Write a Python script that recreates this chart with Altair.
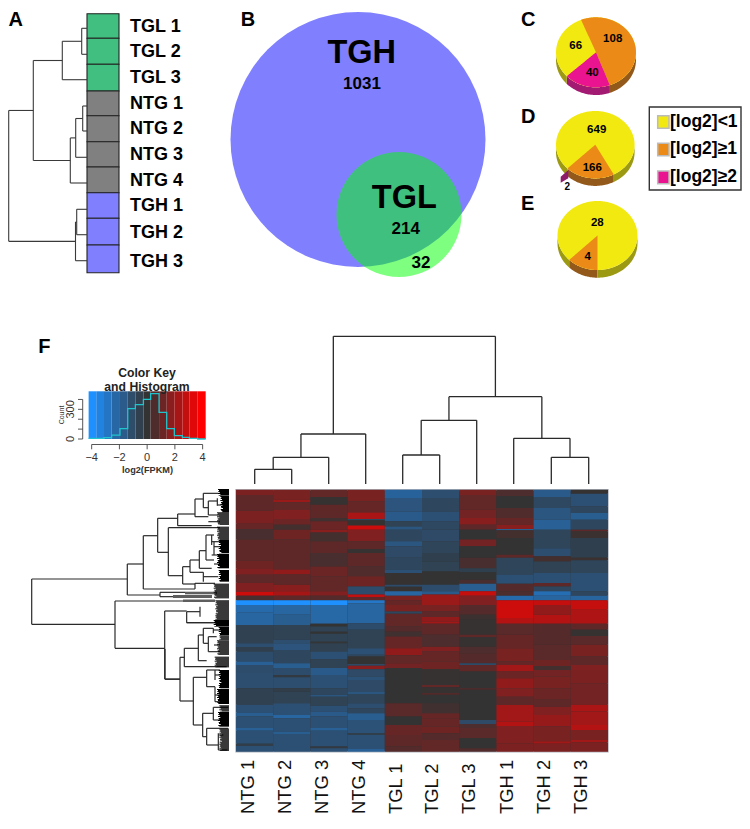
import numpy as np
import pandas as pd
import altair as alt

FONT = "Liberation Sans"
X_SCALE = alt.Scale(domain=[8, 742], nice=False, zero=False)
Y_SCALE = alt.Scale(domain=[8, 815], reverse=True, nice=False, zero=False)
qx = alt.X("x:Q", scale=X_SCALE, axis=None)
qy = alt.Y("y:Q", scale=Y_SCALE, axis=None)

GREEN, GRAY, BLUE = "#40BF80", "#808080", "#8080FF"
YELLOW, ORANGE, MAGENTA = "#F2E911", "#EB8A17", "#EA1490"
WALL = {YELLOW: "#9C9A12", ORANGE: "#93591A", MAGENTA: "#A31A72"}

# ---------- Panel A
a_names = ["TGL 1", "TGL 2", "TGL 3", "NTG 1", "NTG 2", "NTG 3", "NTG 4", "TGH 1", "TGH 2", "TGH 3"]
a_colors = [GREEN] * 3 + [GRAY] * 4 + [BLUE] * 3
a_edges = [13.7, 38.3, 64.3, 91, 115.7, 141.7, 167, 192.7, 218.3, 245, 272.7]
a_label_y = [26.7, 51.7, 77.7, 104, 129, 155, 181, 206, 233, 262]
a_leaf_y = [28.3, 54.3, 79.7, 106, 131, 157.3, 183, 209.3, 234.7, 260.7]
a_merges = [(0, 1, 81.7), (10, 2, 62.3), (3, 4, 82.7), (12, 5, 75.7), (13, 6, 70.3),
            (11, 14, 33.3), (7, 8, 76.7), (16, 9, 75.5), (15, 17, 8.7)]

# ---------- Panel F top tree
col_names = ["NTG 1", "NTG 2", "NTG 3", "NTG 4", "TGL 1", "TGL 2", "TGL 3", "TGH 1", "TGH 2", "TGH 3"]
top_leaf_x = [254.7, 291.7, 328.7, 365.7, 402.7, 439.7, 476.7, 513.7, 551.3, 588.7]
top_merges = [(0, 1, 469.3), (10, 2, 457.3), (11, 3, 434), (4, 5, 455), (13, 6, 420.3),
              (8, 9, 457.3), (7, 15, 438.3), (14, 16, 396.7), (12, 17, 336.3)]
col_label_x = [247.7, 285, 321.7, 359, 395.7, 432.3, 469.3, 506.7, 544, 580.7]


def tree_segments(leaves, merges, leaf_h, horizontal):
    pos = list(leaves)
    h = [leaf_h] * len(leaves)
    segs = []
    for l, r, m in merges:
        pl, pr = pos[l], pos[r]
        if horizontal:
            segs += [(m, pl, m, pr), (m, pl, h[l], pl), (m, pr, h[r], pr)]
        else:
            segs += [(pl, m, pr, m), (pl, m, pl, h[l]), (pr, m, pr, h[r])]
        pos.append((pl + pr) / 2)
        h.append(m)
    return segs


# ---------- Heatmap, each column: (end row of the band, log2 value)
heat_cols = [
    [(2,1.7),(8,1.0),(13,1.7),(15,1.2),(19,0.5),(27,1.0),(30,1.4),(32.5,1.8),(35.5,1.0),(39,1.8),(40.5,3.6),(42.2,0.5),(44,-4),(47,-2.8),(51.6,-2.6),(58.6,-0.7),(60,-1.4),(61.8,-0.6),(65.6,-1.3),(66.9,-2.3),(70,-1.3),(75.8,-1.4),(82.1,-0.7),(85,-1.5),(86.6,-2.2),(91,-1.5),(92,-2.3),(97,-1.5),(97.8,-0.5),(100,-1.5)],
    [(3.8,1.6),(4.8,2.4),(7.6,1.1),(11.5,1.8),(13.4,1.3),(15.3,0.4),(19,1.4),(30.5,1.0),(32.4,2.2),(36.3,1.0),(38.8,2.0),(40.5,2.7),(42.2,1.0),(44,-4),(47.7,-2.6),(51.6,-2.2),(57.3,-0.8),(58.6,-1.4),(61.2,-1.7),(66.2,-1.0),(68.1,-2.2),(70.7,-1.3),(71.6,-0.3),(75.8,-1.4),(77,-0.5),(81.5,-0.8),(86,-1.5),(87.2,-2.6),(92.3,-1.5),(93.2,-2.2),(100,-1.5)],
    [(2.8,1.1),(5.7,0.1),(10.8,1.0),(12,0.3),(15.3,1.3),(16.3,2),(19.7,0.4),(24.2,1.0),(29.3,0.5),(33,1.3),(38.8,1.1),(40.5,1.8),(42.2,0.8),(44,-4),(51.2,-2.7),(52.2,0),(54.2,-0.8),(55,0),(58,-0.8),(58.6,-0.1),(61.8,-0.7),(64.7,-1.5),(68.1,-0.8),(70.7,-2),(75.8,-1.5),(78.3,-1),(79,-1.8),(82.5,-0.8),(84.7,-1.5),(86.6,-2),(91,-1.5),(92,-2.3),(98,-1.5),(98.7,-0.3),(100,-1.5)],
    [(4.5,1.6),(8.7,1.2),(11.2,2.8),(11.7,-1),(13.7,0.1),(15.3,3.6),(19.7,1.8),(22.6,1.0),(24.2,0.1),(29.3,1.0),(33,0.7),(36.9,1.4),(40,-1.3),(41,3.3),(42.2,1),(43.3,-3.5),(51,-2.6),(53.5,-1.3),(60.5,-0.8),(63,-1.5),(63.7,-1),(66.5,0),(67.2,-1.2),(68.5,2),(71.3,-1.2),(72.6,-1.6),(77,-1.2),(78,-1.8),(81.5,-0.9),(83.4,-1.4),(85.3,-1.0),(87.9,-2.2),(93,-1.6),(93.6,-0.6),(99,-1.5),(100,-2.3)],
    [(3.2,-2.4),(8.3,-1.7),(12,-2),(14,-0.8),(15.3,-1.8),(19.7,-1.0),(21.6,-1.8),(26,-1.2),(30.5,-1.0),(31.8,-1.5),(36.3,0.1),(37,-1.3),(38.8,0.1),(40.5,-2.6),(42.2,1.6),(44,1.2),(46.5,1.6),(47.3,-1),(52.2,1.1),(54.2,0.8),(56,0.3),(60.5,1.2),(63.2,2.2),(66.2,1.1),(68.1,1.5),(81.5,0),(86.6,0.9),(89.8,0),(93.6,1.2),(98,1.0),(100,0.8)],
    [(3.2,-1.4),(8.3,-1.0),(12,-1.5),(15.3,-1.1),(19.7,-1.2),(24.2,-0.9),(27.4,-0.6),(31.2,-0.8),(36.3,0),(38.8,-1.3),(40,-2),(44,2.4),(46.5,1.6),(48.6,1.0),(50.3,2.2),(51.2,2.6),(55.4,1),(59.9,0.6),(61.8,1.8),(65.6,1.2),(68.5,1.4),(74.5,0.1),(75.4,1.1),(77.7,0.1),(78.3,1),(81.5,0),(85.3,0.3),(87.2,1.2),(90.4,1.2),(93,1.4),(95.5,0.8),(100,1.1)],
    [(2,1.6),(7.6,1.1),(10.8,1.5),(13.4,2),(15.3,1),(19,0),(21.6,1.5),(26,0),(30,0.5),(31.5,-0.6),(34.4,0),(35.9,0.5),(38.8,-2.2),(40.5,3.4),(44,1.8),(47.7,0.8),(49.6,0.2),(55.4,0.1),(56.3,1),(59.9,0.1),(62.4,0.6),(66.2,0.8),(66.9,-1.2),(69.4,1.0),(75.8,0),(76.4,0.8),(87.9,0),(89.4,-1.2),(91,0.6),(94.9,0.9),(98.7,0),(100,0.7)],
    [(2.5,0.6),(7,0),(10.8,0.7),(13.4,1.2),(15,2),(15.5,-2.2),(18.4,0.4),(24.8,0),(26,1),(32.4,-0.9),(35.9,-1.5),(38.8,0.8),(40.5,0.6),(42.2,-2.8),(49,3.6),(51.2,3),(55.4,0.9),(60.5,1.2),(65.6,1.6),(66.9,1.2),(69.4,2.6),(72,1.3),(75.8,2.2),(79,1.8),(82.2,1),(88.5,2.6),(90.2,3),(96.8,1.8),(100,1.7)],
    [(2.8,-2),(7,-1.1),(11.5,-1.8),(15.3,-2.3),(22.3,-0.9),(25.4,-1.4),(27.4,0.4),(31.8,-0.8),(35.6,-1.5),(36.9,1.0),(38.8,-1),(40.5,-3),(42.2,-2.5),(44,3.4),(47.7,2.2),(51.2,3),(59.2,0.8),(65,0.9),(67.3,1.4),(68.8,0.4),(71.3,1.5),(75.8,1.6),(80.2,1.3),(82.8,1),(86,1.8),(90.4,2.3),(96,1.6),(97,2.6),(100,1.7)],
    [(1.5,0.1),(6.4,-1.5),(8.9,-1),(11.5,-2.2),(15.3,-1),(15.9,1),(18.4,0.2),(26,-0.6),(26.9,0.2),(31.8,-0.9),(38.8,-1.5),(40.5,-1),(42.2,-2.5),(45.8,3.4),(51.2,2.9),(53.5,1),(55.8,0.1),(59.2,0.9),(63.7,1.6),(66.9,1.0),(68.8,1.8),(73.9,1.7),(82.1,1.5),(84.7,2.8),(89.8,2.6),(91.7,3),(95.5,1.6),(96.5,2.6),(100,1.7)],
]
HEAT_L, HEAT_R, HEAT_T, HEAT_B = 236.0, 608.0, 489.7, 751.7
HEAT_SHADE = 0.84

# ---------- Colour key
hist_edges = [-4.22, -3.11, -2.56, -1.96, -1.40, -0.85, -0.27, 0.25, 0.86, 1.41, 1.96, 2.54, 3.04, 3.64, 4.22]
hist_counts = [7, 13, 40, 104, 307, 347, 401, 458, 270, 104, 34, 17, 7, 0]
key_edges = [-4.22, -3.67, -3.11, -2.56, -1.96, -1.40, -0.85, -0.27, 0.25, 0.86, 1.41, 1.96, 2.54, 3.04, 3.64, 4.22]
key_vals = [-4, -3.4, -2.85, -2.25, -1.7, -1.1, -0.55, 0, 0.55, 1.1, 1.7, 2.25, 2.85, 3.4, 4]
key_ticks_x = [-4, -2, 0, 2, 4]
key_ticks_y = [0, 100, 200, 300, 400]
key_x = lambda v: 91.67 + 13.87 * (v + 4)
key_y = lambda c: 439 - c * 0.0989

# ---------- Pies
pies = [
    dict(cx=596, cy=52.3, a=40, b=35, d=7.7, start=-22, values=[108, 40, 66], colors=[ORANGE, MAGENTA, YELLOW]),
    dict(cx=595.3, cy=144.7, a=39.3, b=33.7, d=7.5, start=152, values=[166, 2, 649], colors=[ORANGE, MAGENTA, YELLOW]),
    dict(cx=597.5, cy=235.5, a=40, b=34.5, d=7.7, start=180, values=[4, 28], colors=[ORANGE, YELLOW]),
]

layers = []


def rects(rows, **mark):
    df = pd.DataFrame(rows, columns=["x", "y", "x2", "y2"])
    return alt.Chart(df).mark_rect(**mark).encode(x=qx, y=qy, x2="x2:Q", y2="y2:Q")


def rules(rows, color, width):
    df = pd.DataFrame(rows, columns=["x", "y", "x2", "y2"])
    return alt.Chart(df).mark_rule(color=color, strokeWidth=width).encode(x=qx, y=qy, x2="x2:Q", y2="y2:Q")


def text(rows, size, bold=True, color="#000000", angle=0, align="center", baseline="middle"):
    df = pd.DataFrame(rows, columns=["x", "y", "t"])
    return alt.Chart(df).mark_text(font=FONT, fontSize=size, fontWeight="bold" if bold else "normal",
                                   color=color, angle=angle, align=align, baseline=baseline).encode(x=qx, y=qy, text="t:N")


def area(x, y, y2, color):
    df = pd.DataFrame({"x": x, "y": y, "y2": y2}).sort_values("x")
    return alt.Chart(df).mark_area(color=color, opacity=1).encode(
        x=alt.X("x:Q", scale=X_SCALE, axis=None), y=qy, y2="y2:Q")


def polygon_area(pts, color):
    pts = np.array(pts)
    xs = np.unique(np.concatenate([np.linspace(pts[:, 0].min(), pts[:, 0].max(), 70), pts[:, 0]]))
    top, bot, keep = [], [], []
    closed = np.vstack([pts, pts[0]])
    for xv in xs:
        hits = []
        for (x0, y0), (x1, y1) in zip(closed[:-1], closed[1:]):
            if min(x0, x1) <= xv <= max(x0, x1):
                if x0 == x1:
                    hits += [y0, y1]
                else:
                    hits.append(y0 + (y1 - y0) * (xv - x0) / (x1 - x0))
        if hits:
            top.append(min(hits)); bot.append(max(hits)); keep.append(xv)
    return area(keep, top, bot, color)


# ---- Panel A drawing
a_rows = [(87, a_edges[i], 119, a_edges[i + 1]) for i in range(10)]
for i, c in enumerate(a_colors):
    layers.append(rects([a_rows[i]], color=c, stroke="#222222", strokeWidth=1.1))
layers.append(text([(130, y, n) for y, n in zip(a_label_y, a_names)], 18, align="left"))
layers.append(rules(tree_segments(a_leaf_y, a_merges, 87, True), "#3A3A3A", 1.1))

# ---- Panel B (Venn)
layers.append(alt.Chart(pd.DataFrame({"x": [358], "y": [139.5]})).mark_point(
    shape="circle", filled=True, color=BLUE, opacity=1, size=(2 * 127.5) ** 2).encode(x=qx, y=qy))
layers.append(alt.Chart(pd.DataFrame({"x": [399], "y": [214.5]})).mark_point(
    shape="circle", filled=True, color="#00FF00", opacity=0.5, size=(2 * 62.5) ** 2).encode(x=qx, y=qy))
layers.append(text([(361.7, 53.3, "TGH"), (404.3, 198.3, "TGL")], 32.5))
layers.append(text([(362, 84, "1031"), (405.7, 229.3, "214"), (421, 263.3, "32")], 17))

# ---- Pies
for p in pies:
    cx, cy, a, b, d = p["cx"], p["cy"], p["a"], p["b"], p["d"]
    total = sum(p["values"])
    ang = p["start"]
    wedges = []
    for v, c in zip(p["values"], p["colors"]):
        sw = v / total * 360
        wedges.append((ang, ang + sw, c))
        ang += sw
    # front wall of the pie
    for t0, t1, c in wedges:
        for shift in (0, 360, -360):
            lo, hi = max(t0 + shift, 90), min(t1 + shift, 270)
            if hi - lo > 2:
                ts = np.radians(np.linspace(lo, hi, 40))
                xs = cx + a * np.sin(ts)
                ys = cy - b * np.cos(ts)
                layers.append(area(xs, ys, ys + d, WALL[c]))
    ts = np.radians(np.linspace(0, 360, 120))
    layers.append(polygon_area(np.c_[cx + a * np.sin(ts), cy - b * np.cos(ts)], YELLOW))
    for t0, t1, c in wedges:
        if c == YELLOW or t1 - t0 < 2:
            continue
        ts = np.radians(np.linspace(t0, t1, 50))
        layers.append(polygon_area(np.vstack([[cx, cy], np.c_[cx + a * np.sin(ts), cy - b * np.cos(ts)]]), c))

# exploded sliver of pie D
layers.append(area([560.7, 568.3], [176.7, 170], [182.7, 178.3], "#8E1A6A"))
layers.append(text([(575.7, 45.7, "66"), (612.7, 38.7, "108"), (592.3, 72.7, "40"),
                    (596.7, 130.3, "649"), (592.3, 167.7, "166"),
                    (597.3, 222.7, "28"), (587.7, 256.7, "4")], 11.5))
layers.append(text([(567.3, 186.7, "2")], 10))

# ---- Legend
layers.append(rects([(649.3, 107, 741, 190)], color="#FFFFFF", stroke="#333333", strokeWidth=1.4))
leg = [("[log2]<1", YELLOW, 115.7, 128.3, 121.7), ("[log2]≥1", ORANGE, 143.3, 155.7, 149), ("[log2]≥2", MAGENTA, 171, 183.7, 176.7)]
for t, c, y0, y1, yt in leg:
    layers.append(rects([(657.7, y0, 669, y1)], color=c, stroke="#BBBBBB", strokeWidth=1.5))
    layers.append(text([(670, yt, t)], 17.5, align="left"))

# ---- Panel letters
layers.append(text([(8.5, 20.2, "A"), (240.7, 20.2, "B"), (521, 20.2, "C"), (521, 117, "D"), (521, 204, "E"), (38.3, 346.7, "F")], 20, align="left"))

# ---- Colour key
color_scale = alt.Scale(domain=[-4, 0, 4], range=["#1E90FF", "#333333", "#FF0000"], clamp=True, interpolate="rgb")
key_df = pd.DataFrame({"x": [key_x(v) for v in key_edges[:-1]], "x2": [key_x(v) for v in key_edges[1:]],
                       "y": 391.3, "y2": 439.0, "v": key_vals})
layers.append(alt.Chart(key_df).mark_rect(strokeWidth=0).encode(
    x=qx, y=qy, x2="x2:Q", y2="y2:Q", color=alt.Color("v:Q", scale=color_scale, legend=None)))
hist_df = pd.DataFrame({"x": [key_x(v) for v in hist_edges], "y": [key_y(c) for c in hist_counts + [0]]})
layers.append(alt.Chart(hist_df).mark_line(color="#1FC4CC", strokeWidth=1.3, interpolate="step-after").encode(
    x=alt.X("x:Q", scale=X_SCALE, axis=None), y=qy))
kx = [(key_x(-4), 444.5, key_x(4), 444.5)] + [(key_x(v), 444.5, key_x(v), 449.3) for v in key_ticks_x]
ky = [(82.7, key_y(0), 82.7, key_y(400))] + [(78, key_y(c), 82.7, key_y(c)) for c in key_ticks_y]
layers.append(rules(kx + ky, "#444444", 0.9))
layers.append(text([(key_x(v), 458, str(v).replace("-", "−")) for v in key_ticks_x], 11, bold=False, color="#333333"))
layers.append(text([(147.5, 469.5, "log2(FPKM)")], 9.2, color="#333333"))
layers.append(text([(147, 372.7, "Color Key"), (147, 387.3, "and Histogram")], 12.2, color="#222222"))
layers.append(text([(70.7, key_y(0), "0"), (70.7, key_y(300), "300")], 11, bold=False, color="#333333", angle=270))
layers.append(text([(62.3, 415, "Count")], 7, bold=False, color="#333333", angle=270))

# ---- Top tree
layers.append(rules(tree_segments(top_leaf_x, top_merges, 484, False), "#2A2A2A", 1.3))

# ---- Heatmap
row_h = (HEAT_B - HEAT_T) / 100
cw = (HEAT_R - HEAT_L) / 10
hx, hx2, hy, hy2, hv = [], [], [], [], []
for i, col in enumerate(heat_cols):
    prev = 0
    for end, v in col:
        hx.append(HEAT_L + i * cw); hx2.append(HEAT_L + (i + 1) * cw)
        hy.append(HEAT_T + prev * row_h); hy2.append(HEAT_T + end * row_h)
        hv.append(v * HEAT_SHADE if abs(v) < 3.9 else v)
        prev = end
layers.append(rects([(HEAT_L, HEAT_T, HEAT_R, HEAT_B)], color="#333333", stroke="#AEB4BC", strokeWidth=1.4))
heat_df = pd.DataFrame({"x": hx, "x2": hx2, "y": hy, "y2": hy2, "v": hv})
layers.append(alt.Chart(heat_df).mark_rect(strokeWidth=0).encode(
    x=qx, y=qy, x2="x2:Q", y2="y2:Q", color=alt.Color("v:Q", scale=color_scale, legend=None)))
layers.append(text([(x, 814, n) for x, n in zip(col_label_x, col_names)], 18.4, bold=False, color="#111111", angle=270, align="left"))

# ---- Left tree: branch segments read in two enlarged windows
z8_h = [(100,53,113),(202,53,85),(87,113,165),(122,113,215),(42,165,190),(95,165,205),(25,190,235),(68,190,205),
        (48,205,232),(90,205,235),(128,85,240),(272,85,128),(245,128,150),(297,128,165),(225,150,178),(262,150,190),
        (197,178,198),(250,178,215),(150,198,222),(225,198,222),(295,165,225),(312,10,165),(322,60,135),(335,60,100),
        (170,215,240),(210,215,240),(185,222,242),(237,222,240),(60,232,245),(110,205,240),(275,190,235),(380,140,180),(413,140,235)]
z8_v = [(53,100,202),(113,87,122),(165,42,95),(190,25,68),(205,48,90),(85,128,272),(128,245,297),(150,225,262),
        (178,197,250),(198,150,225),(60,322,335),(165,295,312),(232,40,62),(222,170,210),(190,262,290),(140,380,413),(180,365,395),(215,150,180)]
z9_h = [(85,133,175),(140,133,260),(45,175,190),(122,175,200),(25,190,220),(70,190,205),(50,205,230),(95,205,240),
        (172,160,200),(150,200,240),(200,200,225),(315,160,188),(280,188,220),(350,188,200),(262,220,265),(300,220,240),
        (325,200,265),(375,200,235),(112,120,133),(243,120,160),(178,75,120),(8,140,240),(225,225,245),(245,225,240),
        (345,235,250),(390,235,262),(30,220,240),(75,222,240),(165,225,245)]
z9_v = [(120,112,243),(133,85,140),(175,45,122),(190,25,70),(205,50,95),(160,172,315),(200,150,200),(188,280,350),
        (220,262,300),(200,325,375),(225,200,245),(235,340,390),(220,25,40),(225,150,180),(75,87,178)]
left_main = [(31.7, 579, 127.3, 579), (31.7, 579, 31.7, 624.3), (31.7, 624.3, 115, 624.3), (127.3, 564, 127.3, 595),
             (127.3, 564, 143.3, 564), (127.3, 595, 160, 595), (143.3, 535.7, 143.3, 589), (143.3, 535.7, 157.7, 535.7),
             (115, 601, 115, 648.3), (115, 601, 183, 601), (115, 648.3, 164.7, 648.3), (164.7, 611, 164.7, 679),
             (164.7, 611, 186.7, 611), (164.7, 679, 180, 679)]
z8x = lambda X: 140 + X / 3
z8y = lambda Y: 485 + Y / 3
z9y = lambda Y: 620 + Y / 3
left = list(left_main)
left += [(z8x(a), z8y(y), z8x(b), z8y(y)) for y, a, b in z8_h]
left += [(z8x(x), z8y(a), z8x(x), z8y(b)) for x, a, b in z8_v]
left += [(z8x(a), z9y(y), z8x(b), z9y(y)) for y, a, b in z9_h]
left += [(z8x(x), z9y(a), z8x(x), z9y(b)) for x, a, b in z9_v]
layers.append(rules(left, "#2A2A2A", 1.2))

# gray bars from the closely spaced leaves
layers.append(rects([(185, 591.7, 217, 594.3), (173, 595, 212, 598), (183, 599.5, 215, 602)], color="#5E5E5E", strokeWidth=0))

# black mass of leaf tips: (start X in enlarged window, top, bottom)
mass_top = [(238,12,32),(245,33,75),(248,75,82),(235,82,120),(235,125,165),(240,165,205),(235,207,250),(240,255,290),(225,296,340),(230,346,405)]
mass_bot = [(225,0,20),(240,21,45),(242,46,60),(235,61,105),(228,110,142),(240,150,205),(235,207,252),(242,256,275),(238,276,320),(242,326,393)]
jag = [0, 3, 1, 5, 0, 7, 2, 4, 0, 6, 2, 3, 8, 1, 4]
mass = []
for yfun, bands in ((z8y, mass_top), (z9y, mass_bot)):
    for X, a, b in bands:
        k = 0
        for Y in np.arange(a, b, 3.0):
            mass.append((z8x(X - 4 + jag[k % len(jag)]), yfun(Y), 229, yfun(min(Y + 3.0, b))))
            k += 1
layers.append(rects(mass, color="#000000", strokeWidth=0))

chart = alt.layer(*layers).properties(
    width=734, height=807,
    autosize=alt.AutoSizeParams(type="none"),
    padding=0,
    background="#FFFFFF",
).configure_view(stroke=None)

chart.save("out.html", embed_options={"renderer": "svg", "actions": False})
